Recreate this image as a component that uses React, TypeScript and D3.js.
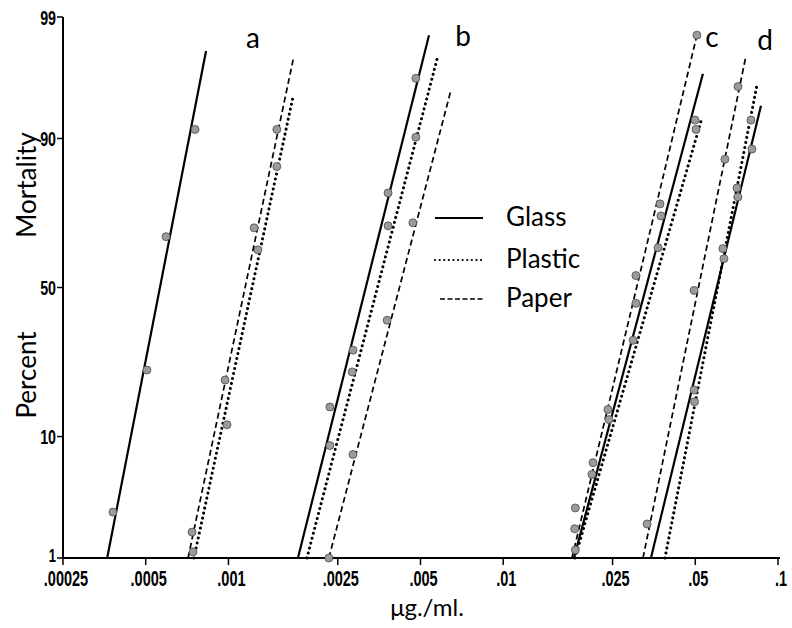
import React from "react";
import * as d3 from "d3";

// ---- data ----
const xTickValues = [0.00025, 0.0005, 0.001, 0.0025, 0.005, 0.01, 0.025, 0.05, 0.1];
const xTickLabels = [".00025", ".0005", ".001", ".0025", ".005", ".01", ".025", ".05", ".1"];
const yTickValues = [1, 10, 50, 90, 99];

const materials = ["Glass", "Plastic", "Paper"];
const groupNames = ["a", "b", "c", "d"];

// fitted lines: group, material, low end (dose, %), high end (dose, %)
const lineGroup = ["a", "a", "a", "b", "b", "b", "c", "c", "c", "d", "d", "d"];
const lineMaterial = ["Glass", "Plastic", "Paper", "Glass", "Plastic", "Paper", "Glass", "Plastic", "Paper", "Glass", "Plastic", "Paper"];
const lineLowDose = [0.000362, 0.000749, 0.000713, 0.00179, 0.00193, 0.00232, 0.01809, 0.01825, 0.01779, 0.03448, 0.03878, 0.03226];
const lineLowPct = [1, 1, 1, 1, 1, 1, 1, 1, 1, 1, 1, 1];
const lineHighDose = [0.000829, 0.00172, 0.00172, 0.00537, 0.00579, 0.00645, 0.0533, 0.0529, 0.0507, 0.0867, 0.0838, 0.0765];
const lineHighPct = [97.9, 95.0, 97.5, 98.5, 97.7, 95.5, 96.7, 92.8, 98.5, 94.1, 95.9, 97.7];

// observed points (dose, % mortality)
const pointDose = [
  0.000756, 0.000593, 0.000505, 0.00038,
  0.0015, 0.0015, 0.00124, 0.00128, 0.000972, 0.000988, 0.000737, 0.000743,
  0.00481, 0.00481, 0.00381, 0.00381, 0.00469, 0.00378, 0.00284, 0.00282, 0.00234, 0.00234, 0.00284, 0.00232,
  0.0507, 0.0499, 0.0503, 0.0372, 0.0375, 0.0366, 0.0304, 0.0304, 0.0297, 0.02405, 0.02425, 0.02122, 0.02103, 0.0183, 0.0182, 0.0183,
  0.0715, 0.0797, 0.0804, 0.0641, 0.0709, 0.0715, 0.063, 0.0636, 0.0495, 0.0495, 0.0497, 0.0334,
];
const pointPct = [
  91.3, 66.9, 23.9, 2.67,
  91.3, 85.1, 69.6, 62.7, 21.3, 11.9, 1.77, 1.15,
  96.4, 90.2, 79.2, 70.2, 71.1, 38.9, 29.5, 23.4, 15.2, 8.7, 7.55, 1.0,
  98.5, 92.5, 91.3, 76.4, 73.1, 63.4, 54.1, 44.6, 32.5, 14.7, 12.8, 6.6, 5.4, 2.9, 1.9, 1.2,
  95.8, 92.5, 88.3, 86.5, 80.4, 78.2, 63.1, 59.8, 49.0, 18.9, 16.3, 2.1,
];

// ---- helpers ----
function probit(p: number): number {
  const a = [-3.969683028665376e1, 2.209460984245205e2, -2.759285104469687e2, 1.38357751867269e2, -3.066479806614716e1, 2.506628277459239];
  const b = [-5.447609879822406e1, 1.615858368580409e2, -1.556989798598866e2, 6.680131188771972e1, -1.328068155288572e1];
  const c = [-7.784894002430293e-3, -3.223964580411365e-1, -2.400758277161838, -2.549732539343734, 4.374664141464968, 2.938163982698783];
  const d = [7.784695709041462e-3, 3.224671290700398e-1, 2.445134137142996, 3.754408661907416];
  const plow = 0.02425;
  if (p < plow) {
    const q = Math.sqrt(-2 * Math.log(p));
    return (((((c[0] * q + c[1]) * q + c[2]) * q + c[3]) * q + c[4]) * q + c[5]) / ((((d[0] * q + d[1]) * q + d[2]) * q + d[3]) * q + 1);
  }
  if (p <= 1 - plow) {
    const q = p - 0.5;
    const r = q * q;
    return ((((((a[0] * r + a[1]) * r + a[2]) * r + a[3]) * r + a[4]) * r + a[5]) * q) / (((((b[0] * r + b[1]) * r + b[2]) * r + b[3]) * r + b[4]) * r + 1);
  }
  const q = Math.sqrt(-2 * Math.log(1 - p));
  return -(((((c[0] * q + c[1]) * q + c[2]) * q + c[3]) * q + c[4]) * q + c[5]) / ((((d[0] * q + d[1]) * q + d[2]) * q + d[3]) * q + 1);
}

const W = 792;
const H = 628;
const AX_LEFT = 63;
const AX_RIGHT = 778;
const AX_BOTTOM = 558;
const AX_TOP = 17;

const x = d3.scaleLog().domain([0.00025, 0.1]).range([AX_LEFT, AX_RIGHT]);
const yz = d3.scaleLinear().domain([probit(0.01), probit(0.99)]).range([AX_BOTTOM, AX_TOP]);
const y = (pct: number) => yz(probit(pct / 100));

const styles: Record<string, { width: number; dash: string | undefined; cap: "round" | "butt" }> = {
  Glass: { width: 2.2, dash: undefined, cap: "butt" },
  Plastic: { width: 3, dash: "0.1 5", cap: "round" },
  Paper: { width: 1.7, dash: "6 3.5", cap: "butt" },
};

const line = d3
  .line<[number, number]>()
  .x((d) => x(d[0]))
  .y((d) => y(d[1]));

const tickFont = "'Liberation Sans', 'DejaVu Sans', sans-serif";
const labelFont = "Lato, 'Noto Sans', 'DejaVu Sans', sans-serif";

const groupLabelPos: Record<string, [number, number]> = {
  a: [253, 48],
  b: [463, 46],
  c: [712, 47],
  d: [765, 50],
};

export default function App() {
  const legendY = [218, 260, 299];
  return (
    <svg width={W} height={H} style={{ position: "absolute", left: 0, top: 0, background: "#fff" }}>
      <rect x={0} y={0} width={W} height={H} fill="#fff" />
      {/* axes */}
      <line x1={AX_LEFT} x2={AX_LEFT} y1={AX_TOP} y2={AX_BOTTOM} stroke="#000" strokeWidth={2} />
      <line x1={AX_LEFT} x2={AX_RIGHT + 2} y1={AX_BOTTOM} y2={AX_BOTTOM} stroke="#000" strokeWidth={2} />
      {yTickValues.map((v) => (
        <g key={"yt" + v}>
          <line x1={AX_LEFT - 6} x2={AX_LEFT} y1={y(v)} y2={y(v)} stroke="#000" strokeWidth={1.5} />
          <text
            transform={`translate(${AX_LEFT - 7},${y(v) - (v === 1 ? 3 : 0)}) scale(0.68,1)`}
            dy="0.36em"
            textAnchor="end"
            fontFamily={tickFont}
            fontWeight="bold"
            fontSize={v === 1 ? 19 : 21}
          >
            {v}
          </text>
        </g>
      ))}
      {xTickValues.map((v, i) => (
        <g key={"xt" + v}>
          <line x1={x(v)} x2={x(v)} y1={AX_BOTTOM} y2={AX_BOTTOM + 7} stroke="#000" strokeWidth={1.5} />
          <text
            transform={`translate(${x(v) + 3},${AX_BOTTOM + 28}) scale(0.66,1)`}
            textAnchor="middle"
            fontFamily={tickFont}
            fontWeight="bold"
            fontSize={22}
          >
            {xTickLabels[i]}
          </text>
        </g>
      ))}
      {/* axis titles */}
      <text x={427} y={616} textAnchor="middle" fontFamily={labelFont} fontSize={24}>
        μg./ml.
      </text>
      <text transform="translate(36,375) rotate(-90)" textAnchor="middle" fontFamily={labelFont} fontSize={26}>
        Percent
      </text>
      <text transform="translate(36,185) rotate(-90)" textAnchor="middle" fontFamily={labelFont} fontSize={26}>
        Mortality
      </text>
      {/* fitted lines */}
      {lineGroup.map((g, i) => {
        const s = styles[lineMaterial[i]];
        return (
          <path
            key={"l" + i}
            d={line([
              [lineLowDose[i], lineLowPct[i]],
              [lineHighDose[i], lineHighPct[i]],
            ]) || ""}
            fill="none"
            stroke="#000"
            strokeWidth={s.width}
            strokeDasharray={s.dash}
            strokeLinecap={s.cap}
          />
        );
      })}
      {/* points */}
      {pointDose.map((d, i) => (
        <circle key={"p" + i} cx={x(d)} cy={y(pointPct[i])} r={4} fill="#9b9b9b" stroke="#4a4a4a" strokeWidth={0.8} />
      ))}
      {/* group labels */}
      {groupNames.map((g) => (
        <text key={"g" + g} x={groupLabelPos[g][0]} y={groupLabelPos[g][1]} textAnchor="middle" fontFamily={labelFont} fontSize={28}>
          {g}
        </text>
      ))}
      {/* legend */}
      {materials.map((m, i) => {
        const s = styles[m];
        return (
          <g key={"lg" + m}>
            <line
              x1={m === "Paper" ? 440 : 435}
              x2={483}
              y1={legendY[i]}
              y2={legendY[i]}
              stroke="#000"
              strokeWidth={m === "Plastic" ? 2.2 : s.width}
              strokeDasharray={m === "Plastic" ? "0.1 4.5" : m === "Paper" ? "5 2.5" : undefined}
              strokeLinecap={s.cap}
            />
            <text x={506} y={legendY[i] + 8} fontFamily={labelFont} fontSize={26}>
              {m}
            </text>
          </g>
        );
      })}
    </svg>
  );
}
